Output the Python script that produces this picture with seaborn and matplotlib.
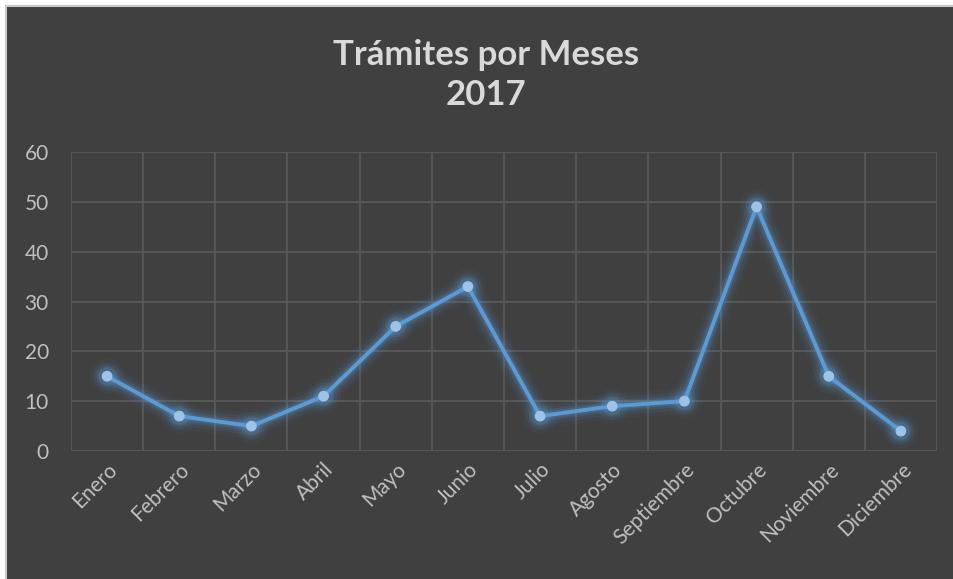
import numpy as np
import pandas as pd
import matplotlib.pyplot as plt
import matplotlib.patheffects as pe
from matplotlib.patches import Rectangle
import seaborn as sns

meses = ['Enero', 'Febrero', 'Marzo', 'Abril', 'Mayo', 'Junio', 'Julio',
         'Agosto', 'Septiembre', 'Octubre', 'Noviembre', 'Diciembre']
tramites = [15, 7, 5, 11, 25, 33, 7, 9, 10, 49, 15, 4]
yticks = [0, 10, 20, 30, 40, 50, 60]

df = pd.DataFrame({'mes': meses, 'tramites': tramites})
df['pos'] = np.arange(len(meses))

sns.set_style("dark")
plt.rcParams['font.family'] = ['Lato', 'DejaVu Sans']

bg = "#404040"
fig = plt.figure(figsize=(9.54, 5.79), dpi=100, facecolor="white")
# dark chart area with a light frame on the left/top (like the screenshot)
fig.patches.append(Rectangle((6/954, -0.02), 1.05, 1.02 - 6/579, transform=fig.transFigure,
                             facecolor=bg, edgecolor="#C8C8C8", linewidth=1.5, zorder=-5))

ax = fig.add_axes([71/954, 1 - 451/579, (937 - 71)/954, (451 - 152)/579])
ax.set_facecolor(bg)

#soft glow around the line
glow = [pe.Stroke(linewidth=18, foreground="#5B9BD5", alpha=0.05),
        pe.Stroke(linewidth=13, foreground="#5B9BD5", alpha=0.08),
        pe.Stroke(linewidth=8.5, foreground="#5B9BD5", alpha=0.14),
        pe.Stroke(linewidth=5.5, foreground="#5B9BD5", alpha=0.2),
        pe.Normal()]

sns.lineplot(data=df, x='pos', y='tramites', ax=ax, color="#5B9BD5",
             linewidth=2.8, marker='o', markersize=7,
             markerfacecolor="#9DC3E6", markeredgecolor="#9DC3E6",
             zorder=3, clip_on=False)
for l in ax.lines:
    l.set_path_effects(glow)

ax.set_xlim(-0.5, len(meses) - 0.5)
ax.set_ylim(0, 60)
ax.set_yticks(yticks)
ax.set_xticks(df['pos'])
ax.set_xticklabels(meses, rotation=45, ha='right', rotation_mode='anchor')
ax.set_xticks(np.arange(-0.5, len(meses)), minor=True)

ax.grid(False)
ax.grid(True, axis='y', which='major', color="#595959", linewidth=1.3)
ax.grid(True, axis='x', which='minor', color="#595959", linewidth=1.3)
for s in ax.spines.values():
    s.set_visible(False)

ax.tick_params(axis='both', which='both', length=0, colors="#BFBFBF", labelsize=15)
ax.tick_params(axis='y', pad=16)
ax.tick_params(axis='x', pad=6)
ax.set_xlabel("")
ax.set_ylabel("")

fig.text(486/954, 1 - 75/579, "Trámites por Meses\n2017", ha='center', va='center',
         fontsize=25, fontweight='bold', color="#D9D9D9", linespacing=1.3)

fig.savefig("out.png", dpi=100, facecolor=fig.get_facecolor())
